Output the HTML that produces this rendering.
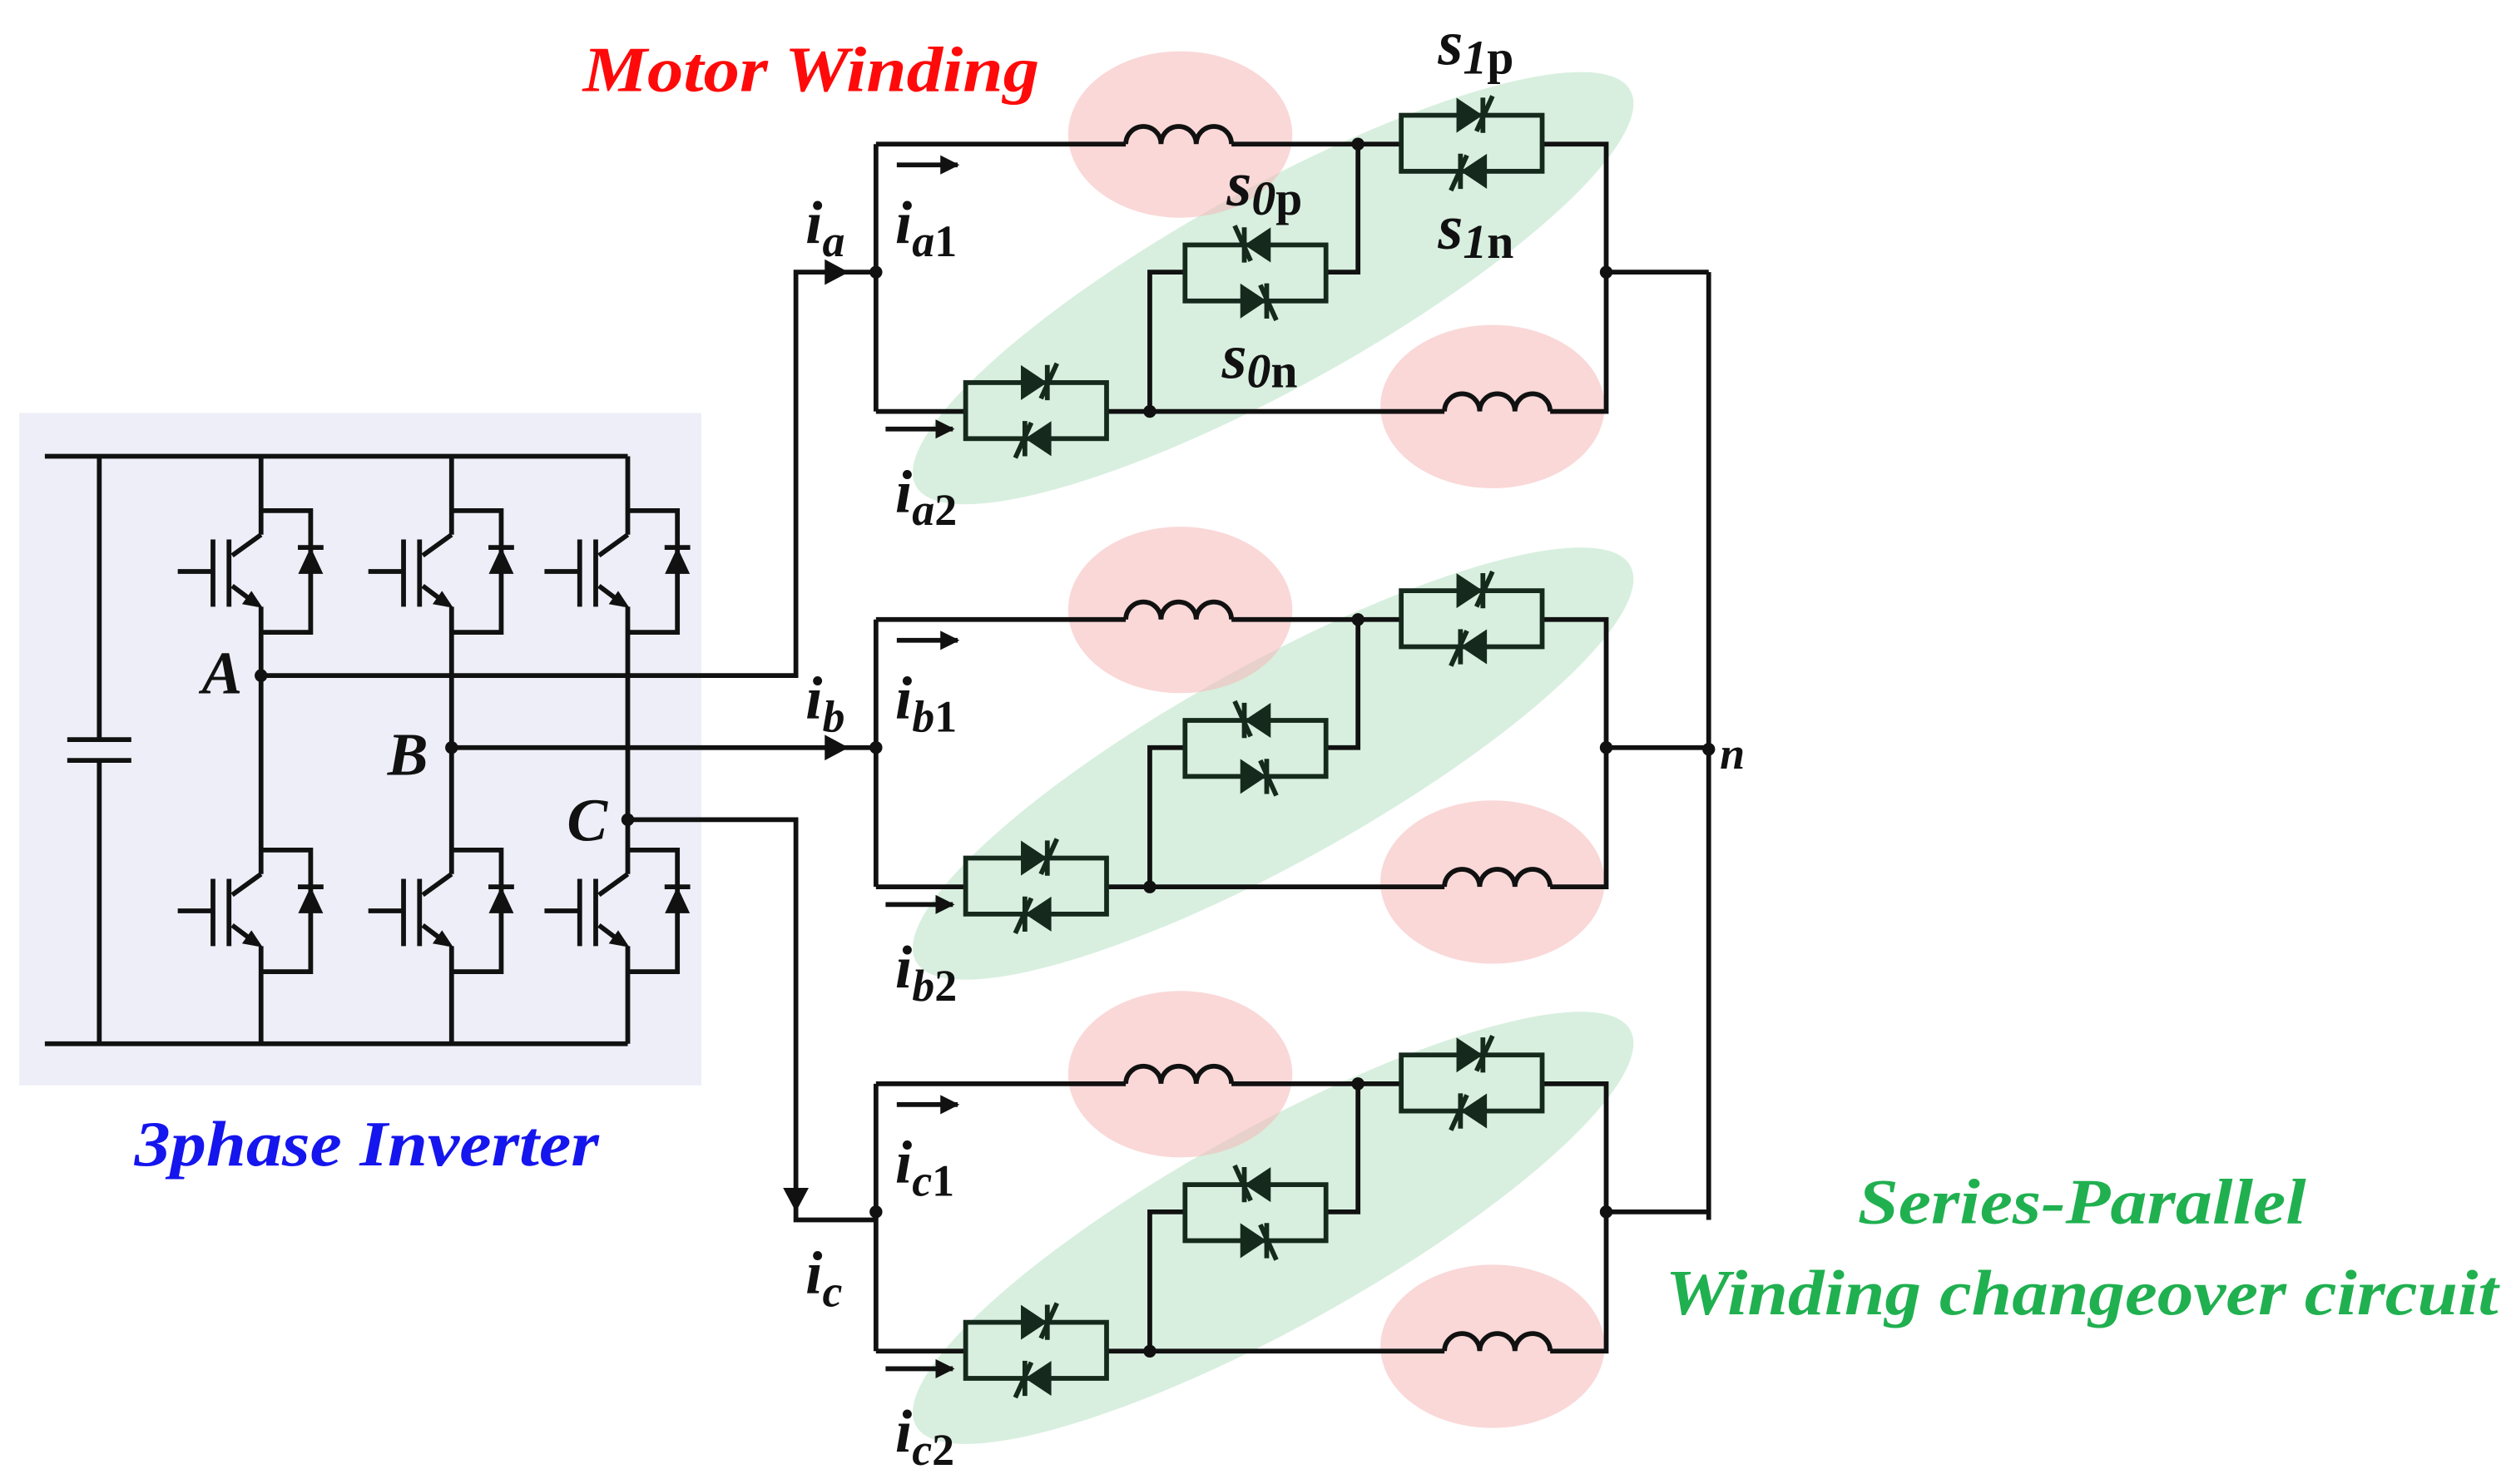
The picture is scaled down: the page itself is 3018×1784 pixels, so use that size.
<!DOCTYPE html>
<html><head><meta charset="utf-8"><style>
html,body{margin:0;padding:0;background:#fff;}
svg{display:block;}
text{font-family:"Liberation Serif",serif;font-style:italic;font-weight:bold;}
</style></head><body>
<svg width="3018" height="1784" viewBox="0 0 1568 927" preserveAspectRatio="none" xmlns="http://www.w3.org/2000/svg">
<defs>
<marker id="ah" viewBox="0 0 10 10" refX="9" refY="5" markerWidth="4" markerHeight="4" orient="auto"><path d="M0,0L10,5L0,10z" fill="#111"/></marker>
<g id="igbt" stroke="#111" stroke-width="3" fill="none">
<path d="M0,0H31V76H0"/>
<path d="M0,15L-18,28"/>
<path d="M-20,18V60"/>
<path d="M-30,18V60"/>
<path d="M-52,38H-30"/>
<path d="M-18,47L-2,59"/>
<path d="M-6,51L0,60L-11,58z" fill="#111" stroke-width="1"/>
<path d="M23,23H39"/>
<path d="M24,39H38L31,24z" fill="#111" stroke-width="1"/>
</g>
<g id="sw" stroke="#152a1c" stroke-width="3" fill="none">
<rect x="0" y="0" width="88" height="35"/>
<path d="M35,-10L35,10L50,0z" fill="#152a1c" stroke-width="1"/>
<path d="M51,-11V11M47,10L57,-12"/>
<path d="M53,25L53,45L38,35z" fill="#152a1c" stroke-width="1"/>
<path d="M37,24V46M41,25L31,47"/>
</g>
<g id="ind" stroke="#111" stroke-width="3" fill="none">
<path d="M0,0a11,11 0 0 1 22,0a11,11 0 0 1 22,0a11,11 0 0 1 22,0"/>
</g>
<g id="phase">
<ellipse cx="795" cy="180" rx="255" ry="62" transform="rotate(-29 795 180)" fill="#a8dcb8" fill-opacity="0.45"/>
<ellipse cx="737" cy="84" rx="70" ry="52" fill="#f5b8b8" fill-opacity="0.55"/>
<ellipse cx="932" cy="254" rx="70" ry="51" fill="#f5b8b8" fill-opacity="0.55"/>
<g stroke="#111" stroke-width="3" fill="none">
<path d="M547,90V257"/>
<path d="M547,90H703M769,90H875M963,90H1003V257H968M902,257H690M603,257H547"/>
<path d="M848,90V170H828M740,170H718V257"/>
<path d="M1003,170H1067"/>
</g>
<use href="#ind" x="703" y="90"/>
<use href="#ind" x="902" y="257"/>
<use href="#sw" x="875" y="72"/>
<use href="#sw" x="603" y="239"/>
<use href="#sw" x="740" y="153" transform="translate(1568,0) scale(-1,1)"/>
<circle cx="547" cy="170" r="4" fill="#111"/>
<circle cx="848" cy="90" r="4" fill="#111"/>
<circle cx="718" cy="257" r="4" fill="#111"/>
<circle cx="1003" cy="170" r="4" fill="#111"/>
<line x1="560" y1="103" x2="598" y2="103" stroke="#111" stroke-width="3" marker-end="url(#ah)"/>
<line x1="553" y1="268" x2="595" y2="268" stroke="#111" stroke-width="3" marker-end="url(#ah)"/>
</g>
</defs>

<rect x="12" y="258" width="426" height="420" fill="#eeeef9"/>
<g stroke="#111" stroke-width="3" fill="none">
<path d="M28,285H392M28,652H392"/>
<path d="M62,285V462M62,475V652M42,462H82M42,475H82"/>
<path d="M163,285V334M163,379V546M163,591V652"/>
<path d="M282,285V334M282,379V546M282,591V652"/>
<path d="M392,285V334M392,379V546M392,591V652"/>
<path d="M163,422H497V170H547"/>
<path d="M282,467H547"/>
<path d="M392,512H497V762H547"/>
<path d="M1067,170V762"/>
</g>
<use href="#igbt" x="163" y="319"/><use href="#igbt" x="282" y="319"/><use href="#igbt" x="392" y="319"/>
<use href="#igbt" x="163" y="531"/><use href="#igbt" x="282" y="531"/><use href="#igbt" x="392" y="531"/>
<circle cx="163" cy="422" r="4" fill="#111"/><circle cx="282" cy="467" r="4" fill="#111"/><circle cx="392" cy="512" r="4" fill="#111"/>
<path d="M515,162L530,170L515,178z" fill="#111"/>
<path d="M515,459L530,467L515,475z" fill="#111"/>
<path d="M489,742L497,757L505,742z" fill="#111"/>

<use href="#phase" x="0" y="0"/>
<use href="#phase" x="0" y="297"/>
<use href="#phase" x="0" y="587"/>
<circle cx="1067" cy="468" r="4" fill="#111"/>

<text x="126" y="433" font-size="38" fill="#111">A</text>
<text x="242" y="484" font-size="38" fill="#111">B</text>
<text x="354" y="525" font-size="38" fill="#111">C</text>
<text x="1074" y="480" font-size="28" fill="#111">n</text>

<g font-size="38" fill="#111">
<text x="503" y="152">i<tspan font-size="28" dy="8">a</tspan></text>
<text x="559" y="152">i<tspan font-size="28" dy="8">a</tspan><tspan font-size="28" font-style="normal">1</tspan></text>
<text x="559" y="320">i<tspan font-size="28" dy="8">a</tspan><tspan font-size="28" font-style="normal">2</tspan></text>
<text x="503" y="449">i<tspan font-size="28" dy="8">b</tspan></text>
<text x="559" y="449">i<tspan font-size="28" dy="8">b</tspan><tspan font-size="28" font-style="normal">1</tspan></text>
<text x="559" y="617">i<tspan font-size="28" dy="8">b</tspan><tspan font-size="28" font-style="normal">2</tspan></text>
<text x="503" y="808">i<tspan font-size="28" dy="8">c</tspan></text>
<text x="559" y="739">i<tspan font-size="28" dy="8">c</tspan><tspan font-size="28" font-style="normal">1</tspan></text>
<text x="559" y="907">i<tspan font-size="28" dy="8">c</tspan><tspan font-size="28" font-style="normal">2</tspan></text>
</g>
<g font-size="40" fill="#111">
<text x="898" y="40">s<tspan font-size="30" dy="6">1</tspan><tspan font-size="30" font-style="normal">p</tspan></text>
<text x="766" y="128">s<tspan font-size="30" dy="6">0</tspan><tspan font-size="30" font-style="normal">p</tspan></text>
<text x="898" y="155">s<tspan font-size="30" dy="6">1</tspan><tspan font-size="30" font-style="normal">n</tspan></text>
<text x="763" y="236">s<tspan font-size="30" dy="6">0</tspan><tspan font-size="30" font-style="normal">n</tspan></text>
</g>

<text x="364" y="57" font-size="40" fill="#ff0a0a" textLength="285" lengthAdjust="spacingAndGlyphs">Motor Winding</text>
<text x="84" y="728" font-size="40" fill="#1515ee" textLength="290" lengthAdjust="spacingAndGlyphs">3phase Inverter</text>
<text x="1160" y="764" font-size="40" fill="#20b050" textLength="280" lengthAdjust="spacingAndGlyphs">Series-Parallel</text>
<text x="1040" y="821" font-size="40" fill="#20b050" textLength="520" lengthAdjust="spacingAndGlyphs">Winding changeover circuit</text>
</svg>
</body></html>
